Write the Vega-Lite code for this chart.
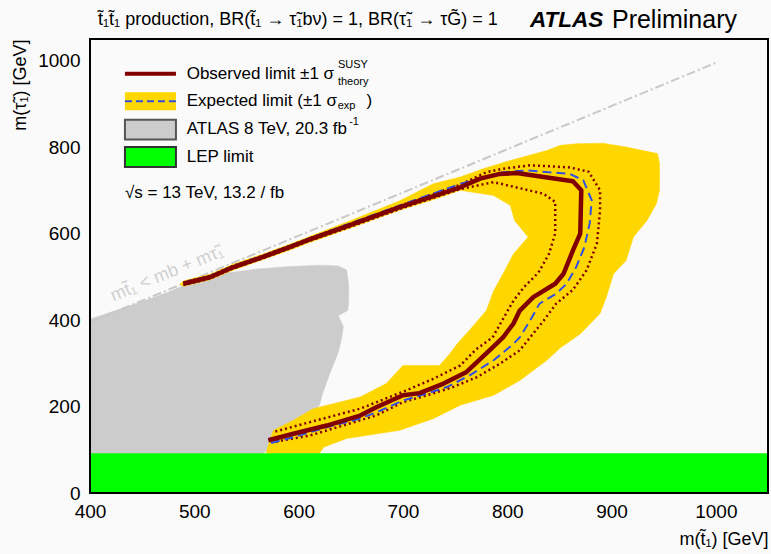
{
  "$schema": "https://vega.github.io/schema/vega-lite/v6.json",
  "width": 678,
  "height": 454,
  "autosize": "none",
  "padding": {"left": 90, "top": 39, "right": 3, "bottom": 61},
  "background": "#fafafa",
  "config": {
    "view": {"stroke": null},
    "font": "Liberation Sans",
    "text": {"font": "Liberation Sans"},
    "axis": {
      "grid": false, "ticks": false, "domain": false, "labelColor": "black",
      "titleColor": "black", "labelFont": "Liberation Sans", "titleFont": "Liberation Sans",
      "titleFontWeight": "normal", "labelFlush": false, "labelOverlap": false, "format": "d"
    }
  },
  "datasets": {
    "lep": [{"x": 400, "x2": 1050, "y": 0, "y2": 92}],
    "gray": [
      {"x":400,"y":0},{"x":400,"y":402},{"x":448,"y":441},{"x":474,"y":464},{"x":490,"y":480},{"x":506,"y":492},{"x":528,"y":508},{"x":560,"y":518},{"x":592,"y":524},{"x":623,"y":527},{"x":638,"y":525},{"x":646,"y":516},{"x":648,"y":480},{"x":648,"y":440},{"x":647,"y":422},{"x":638,"y":410},{"x":640,"y":400},{"x":643,"y":385},{"x":641,"y":355},{"x":638,"y":325},{"x":630,"y":277},{"x":623,"y":230},{"x":620,"y":203},{"x":605,"y":165},{"x":585,"y":125},{"x":566,"y":92},{"x":566,"y":0}
    ],
    "diag": [{"x": 400, "y": 395}, {"x": 1000, "y": 995}],
    "yellow": [
      {"x":486,"y":483},{"x":490,"y":491},{"x":515,"y":506},{"x":537,"y":529},{"x":566,"y":553},{"x":592,"y":576},{"x":608,"y":591},{"x":650,"y":630},{"x":697,"y":676},{"x":729,"y":715},{"x":755,"y":731},{"x":777,"y":750},{"x":803,"y":769},{"x":838,"y":792},{"x":851,"y":804},{"x":867,"y":808},{"x":892,"y":809},{"x":914,"y":800},{"x":944,"y":785},{"x":946,"y":762},{"x":946,"y":700},{"x":943,"y":669},{"x":934,"y":630},{"x":921,"y":592},{"x":914,"y":538},{"x":902,"y":507},{"x":895,"y":453},{"x":889,"y":415},{"x":870,"y":368},{"x":851,"y":336},{"x":838,"y":307},{"x":812,"y":260},{"x":787,"y":226},{"x":755,"y":203},{"x":729,"y":172},{"x":697,"y":145},{"x":646,"y":126},{"x":624,"y":106},{"x":620,"y":92},{"x":569,"y":92},{"x":572,"y":120},{"x":576,"y":145},{"x":595,"y":168},{"x":614,"y":195},{"x":659,"y":222},{"x":684,"y":253},{"x":700,"y":295},{"x":735,"y":295},{"x":745,"y":322},{"x":752,"y":345},{"x":765,"y":380},{"x":780,"y":422},{"x":787,"y":468},{"x":796,"y":507},{"x":806,"y":553},{"x":820,"y":592},{"x":807,"y":630},{"x":803,"y":665},{"x":787,"y":688},{"x":755,"y":700},{"x":729,"y":678},{"x":697,"y":654},{"x":650,"y":613},{"x":608,"y":577},{"x":592,"y":562},{"x":566,"y":540},{"x":537,"y":515},{"x":515,"y":493},{"x":490,"y":478}
    ],
    "thDown": [
      {"x":489.5,"y":481},{"x":515,"y":496},{"x":537,"y":519},{"x":566,"y":543},{"x":592,"y":566},{"x":608,"y":581},{"x":650,"y":616},{"x":697,"y":657},{"x":755,"y":703},{"x":787,"y":719},{"x":835,"y":692},{"x":846,"y":673},{"x":846,"y":600},{"x":840,"y":553},{"x":830,"y":510},{"x":816,"y":476},{"x":806,"y":445},{"x":797,"y":407},{"x":786,"y":360},{"x":770,"y":332},{"x":755,"y":295},{"x":729,"y":264},{"x":703,"y":237},{"x":659,"y":195},{"x":611,"y":164},{"x":576,"y":141}
    ],
    "thUp": [
      {"x":489.5,"y":487},{"x":515,"y":502},{"x":537,"y":525},{"x":566,"y":549},{"x":592,"y":572},{"x":608,"y":587},{"x":650,"y":623},{"x":697,"y":664},{"x":755,"y":713},{"x":780,"y":742},{"x":796,"y":750},{"x":822,"y":758},{"x":860,"y":753},{"x":878,"y":743},{"x":889,"y":700},{"x":889,"y":654},{"x":886,"y":577},{"x":876,"y":515},{"x":863,"y":470},{"x":847,"y":438},{"x":835,"y":399},{"x":822,"y":360},{"x":812,"y":330},{"x":793,"y":299},{"x":771,"y":268},{"x":748,"y":245},{"x":723,"y":226},{"x":700,"y":210},{"x":675,"y":180},{"x":659,"y":168},{"x":611,"y":133},{"x":576,"y":118}
    ],
    "exp": [
      {"x":489.5,"y":487},{"x":515,"y":502},{"x":537,"y":525},{"x":566,"y":549},{"x":592,"y":572},{"x":608,"y":587},{"x":650,"y":624},{"x":697,"y":665},{"x":755,"y":715},{"x":796,"y":742},{"x":819,"y":746},{"x":860,"y":738},{"x":873,"y":723},{"x":881,"y":677},{"x":879,"y":623},{"x":874,"y":569},{"x":866,"y":522},{"x":857,"y":484},{"x":847,"y":461},{"x":831,"y":438},{"x":822,"y":399},{"x":812,"y":360},{"x":806,"y":345},{"x":787,"y":307},{"x":764,"y":272},{"x":742,"y":245},{"x":723,"y":230},{"x":700,"y":214},{"x":675,"y":187},{"x":659,"y":172},{"x":627,"y":152},{"x":595,"y":129},{"x":571,"y":114}
    ],
    "obs": [
      {"x":489.5,"y":484},{"x":515,"y":499},{"x":537,"y":522},{"x":566,"y":546},{"x":592,"y":569},{"x":608,"y":584},{"x":650,"y":620},{"x":697,"y":661},{"x":755,"y":707},{"x":774,"y":727},{"x":793,"y":738},{"x":809,"y":740},{"x":835,"y":731},{"x":863,"y":721},{"x":871,"y":700},{"x":870,"y":600},{"x":863,"y":561},{"x":854,"y":507},{"x":846,"y":484},{"x":825,"y":453},{"x":812,"y":422},{"x":806,"y":392},{"x":796,"y":360},{"x":783,"y":330},{"x":761,"y":280},{"x":739,"y":253},{"x":716,"y":231},{"x":700,"y":226},{"x":675,"y":199},{"x":659,"y":179},{"x":627,"y":156},{"x":595,"y":137},{"x":571,"y":122}
    ],
    "xMajor": [{"x":400},{"x":500},{"x":600},{"x":700},{"x":800},{"x":900},{"x":1000}],
    "xMinor": [{"x":420},{"x":440},{"x":460},{"x":480},{"x":520},{"x":540},{"x":560},{"x":580},{"x":620},{"x":640},{"x":660},{"x":680},{"x":720},{"x":740},{"x":760},{"x":780},{"x":820},{"x":840},{"x":860},{"x":880},{"x":920},{"x":940},{"x":960},{"x":980},{"x":1020},{"x":1040}],
    "yMajor": [{"y":0},{"y":200},{"y":400},{"y":600},{"y":800},{"y":1000}],
    "yMinor": [{"y":50},{"y":100},{"y":150},{"y":250},{"y":300},{"y":350},{"y":450},{"y":500},{"y":550},{"y":650},{"y":700},{"y":750},{"y":850},{"y":900},{"y":950}],
    "legObs": [{"x": 433.5, "x2": 482.4, "y": 969.7}],
    "legExp": [{"x": 433.5, "x2": 482.4, "y": 906}],
    "legBoxY": [{"x": 433.5, "x2": 482.4, "y": 885, "y2": 927}],
    "legBoxG": [{"x": 433.5, "x2": 482.4, "y": 817.7, "y2": 863}],
    "legBoxL": [{"x": 433.5, "x2": 482.4, "y": 753.7, "y2": 800}],
    "legTxt": [
      {"x": 492.7, "y": 969.7, "text": "Observed limit ±1 σ"},
      {"x": 492.7, "y": 906, "text": "Expected limit (±1 σ"},
      {"x": 665, "y": 906, "text": ")"},
      {"x": 492.7, "y": 841, "text": "ATLAS 8 TeV, 20.3 fb"},
      {"x": 492.7, "y": 777, "text": "LEP limit"},
      {"x": 433.5, "y": 694, "text": "√s = 13 TeV, 13.2 / fb"}
    ],
    "legSmall": [
      {"x": 637.7, "y": 989, "text": "SUSY"},
      {"x": 637.7, "y": 950, "text": "theory"},
      {"x": 637.5, "y": 895, "text": "exp"},
      {"x": 648.5, "y": 858, "text": "-1"}
    ],
    "diagTxt": [{"x": 474, "y": 507, "text": "mt̃₁ < mb + mτ̃₁"}],
    "titleTxt": [{"x": 407.7, "y": 1094, "text": "t̃₁t̃₁ production, BR(t̃₁ → τ̃₁bν) = 1, BR(τ̃₁ → τG̃) = 1"}],
    "atlasTxt": [{"x": 821.8, "y": 1094, "text": "ATLAS"}],
    "prelimTxt": [{"x": 900.4, "y": 1094, "text": "Preliminary"}]
  },
  "encoding": {
    "x": {"field": "x", "type": "quantitative", "scale": {"domain": [400, 1050], "nice": false, "zero": false}, "axis": null},
    "y": {"field": "y", "type": "quantitative", "scale": {"domain": [0, 1050], "nice": false, "zero": false}, "axis": null}
  },
  "resolve": {"axis": {"x": "independent", "y": "independent"}},
  "layer": [
    {
      "data": {"name": "gray"},
      "mark": {"type": "line", "interpolate": "linear-closed", "fill": "#cccccc", "color": "#cccccc", "strokeWidth": 0.5},
      "encoding": {"order": {"value": null}}
    },
    {
      "data": {"name": "diag"},
      "mark": {"type": "line", "color": "#c8c8c8", "strokeWidth": 2, "strokeDash": [9, 3, 2, 3]},
      "encoding": {"order": {"value": null}}
    },
    {
      "data": {"name": "diagTxt"},
      "mark": {"type": "text", "angle": -22.5, "fontSize": 18, "color": "#d0d0d0", "align": "center", "baseline": "middle"},
      "encoding": {"text": {"field": "text"}}
    },
    {
      "data": {"name": "yellow"},
      "mark": {"type": "line", "interpolate": "linear-closed", "fill": "#ffd700", "color": "#ffd700", "strokeWidth": 0.5},
      "encoding": {"order": {"value": null}}
    },
    {
      "data": {"name": "thDown"},
      "mark": {"type": "line", "color": "#800000", "strokeWidth": 2.5, "strokeDash": [2, 3]},
      "encoding": {"order": {"value": null}}
    },
    {
      "data": {"name": "thUp"},
      "mark": {"type": "line", "color": "#800000", "strokeWidth": 2.5, "strokeDash": [2, 3]},
      "encoding": {"order": {"value": null}}
    },
    {
      "data": {"name": "exp"},
      "mark": {"type": "line", "color": "#2f4fe6", "strokeWidth": 2, "strokeDash": [9, 5]},
      "encoding": {"order": {"value": null}}
    },
    {
      "data": {"name": "obs"},
      "mark": {"type": "line", "color": "#800000", "strokeWidth": 4.5, "strokeJoin": "round"},
      "encoding": {"order": {"value": null}}
    },
    {
      "data": {"name": "lep"},
      "mark": {"type": "rect", "color": "#00ff00"},
      "encoding": {
        "x": {"field": "x", "type": "quantitative", "scale": {"domain": [400, 1050], "nice": false, "zero": false},
          "axis": {"orient": "bottom", "values": [400,500,600,700,800,900,1000], "labelPadding": 9, "labelFontSize": 19, "title": "m(t̃₁) [GeV]", "titleFontSize": 18, "titleAnchor": "end", "titlePadding": 9}},
        "x2": {"field": "x2"},
        "y": {"field": "y", "type": "quantitative", "scale": {"domain": [0, 1050], "nice": false, "zero": false},
          "axis": {"orient": "left", "values": [0,200,400,600,800,1000], "labelPadding": 10, "labelFontSize": 19, "title": "m(τ̃₁) [GeV]", "titleFontSize": 18, "titleAnchor": "end", "titlePadding": 8}},
        "y2": {"field": "y2"}
      }
    },
    {
      "data": {"name": "lep"},
      "mark": {"type": "rect", "filled": false, "stroke": "black", "strokeWidth": 2},
      "encoding": {"x": {"datum": 400, "axis": null}, "x2": {"datum": 1050}, "y": {"datum": 0, "axis": null}, "y2": {"datum": 1050}}
    },
    {
      "data": {"name": "xMajor"},
      "mark": {"type": "rect", "filled": false, "stroke": "black", "strokeWidth": 2},
      "encoding": {"x2": {"field": "x"}, "y": {"datum": 0, "axis": null}, "y2": {"datum": 30}}
    },
    {
      "data": {"name": "xMajor"},
      "mark": {"type": "rect", "filled": false, "stroke": "black", "strokeWidth": 2},
      "encoding": {"x2": {"field": "x"}, "y": {"datum": 1050, "axis": null}, "y2": {"datum": 1020}}
    },
    {
      "data": {"name": "xMinor"},
      "mark": {"type": "rect", "filled": false, "stroke": "black", "strokeWidth": 2},
      "encoding": {"x2": {"field": "x"}, "y": {"datum": 0, "axis": null}, "y2": {"datum": 16}}
    },
    {
      "data": {"name": "xMinor"},
      "mark": {"type": "rect", "filled": false, "stroke": "black", "strokeWidth": 2},
      "encoding": {"x2": {"field": "x"}, "y": {"datum": 1050, "axis": null}, "y2": {"datum": 1034}}
    },
    {
      "data": {"name": "yMajor"},
      "mark": {"type": "rect", "filled": false, "stroke": "black", "strokeWidth": 2},
      "encoding": {"y2": {"field": "y"}, "x": {"datum": 400, "axis": null}, "x2": {"datum": 419.5}}
    },
    {
      "data": {"name": "yMajor"},
      "mark": {"type": "rect", "filled": false, "stroke": "black", "strokeWidth": 2},
      "encoding": {"y2": {"field": "y"}, "x": {"datum": 1050, "axis": null}, "x2": {"datum": 1030.5}}
    },
    {
      "data": {"name": "yMinor"},
      "mark": {"type": "rect", "filled": false, "stroke": "black", "strokeWidth": 2},
      "encoding": {"y2": {"field": "y"}, "x": {"datum": 400, "axis": null}, "x2": {"datum": 410}}
    },
    {
      "data": {"name": "yMinor"},
      "mark": {"type": "rect", "filled": false, "stroke": "black", "strokeWidth": 2},
      "encoding": {"y2": {"field": "y"}, "x": {"datum": 1050, "axis": null}, "x2": {"datum": 1040}}
    },
    {
      "data": {"name": "legBoxY"},
      "mark": {"type": "rect", "color": "#ffd700"},
      "encoding": {"x2": {"field": "x2"}, "y2": {"field": "y2"}}
    },
    {
      "data": {"name": "legBoxG"},
      "mark": {"type": "rect", "fill": "#cccccc", "stroke": "#555555", "strokeWidth": 2},
      "encoding": {"x2": {"field": "x2"}, "y2": {"field": "y2"}}
    },
    {
      "data": {"name": "legBoxL"},
      "mark": {"type": "rect", "fill": "#00ff00", "stroke": "#333333", "strokeWidth": 2},
      "encoding": {"x2": {"field": "x2"}, "y2": {"field": "y2"}}
    },
    {
      "data": {"name": "legObs"},
      "mark": {"type": "rule", "color": "#800000", "strokeWidth": 4},
      "encoding": {"x2": {"field": "x2"}}
    },
    {
      "data": {"name": "legExp"},
      "mark": {"type": "rule", "color": "#2f4fe6", "strokeWidth": 2, "strokeDash": [7, 4]},
      "encoding": {"x2": {"field": "x2"}}
    },
    {
      "data": {"name": "legTxt"},
      "mark": {"type": "text", "fontSize": 17, "color": "black", "align": "left", "baseline": "middle"},
      "encoding": {"text": {"field": "text"}}
    },
    {
      "data": {"name": "legSmall"},
      "mark": {"type": "text", "fontSize": 11, "color": "black", "align": "left", "baseline": "middle"},
      "encoding": {"text": {"field": "text"}}
    },
    {
      "data": {"name": "titleTxt"},
      "mark": {"type": "text", "fontSize": 18, "color": "black", "align": "left", "baseline": "middle"},
      "encoding": {"text": {"field": "text"}}
    },
    {
      "data": {"name": "atlasTxt"},
      "mark": {"type": "text", "fontSize": 22.5, "fontWeight": "bold", "fontStyle": "italic", "color": "black", "align": "left", "baseline": "middle"},
      "encoding": {"text": {"field": "text"}}
    },
    {
      "data": {"name": "prelimTxt"},
      "mark": {"type": "text", "fontSize": 25, "color": "black", "align": "left", "baseline": "middle"},
      "encoding": {"text": {"field": "text"}}
    }
  ]
}
